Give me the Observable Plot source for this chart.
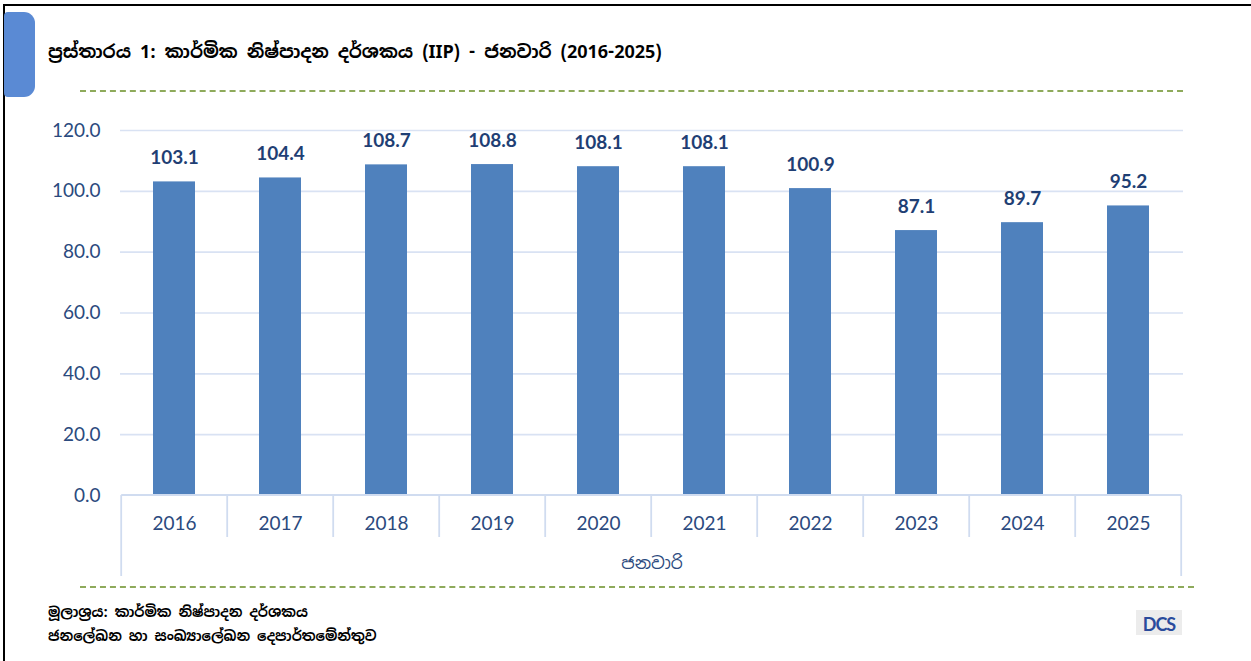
<!DOCTYPE html>
<html>
<head>
<meta charset="utf-8">
<script src="https://cdn.jsdelivr.net/npm/d3@7"></script>
<script src="https://cdn.jsdelivr.net/npm/@observablehq/plot@0.6"></script>
<style>
  html, body { margin:0; padding:0; background:#fff; }
  body { width:1251px; height:661px; position:relative; overflow:hidden; font-family: "Noto Sans Sinhala", "Iskoola Pota", Lato, "Noto Sans", sans-serif; }
  #frame { position:absolute; left:3px; top:4px; width:1300px; height:700px; border-top:2px solid #000; border-left:2px solid #000; }
  #tab { position:absolute; left:4px; top:12px; width:31px; height:85px; background:#5A8AD4; border-radius:4px 11px 11px 4px; }
  #title { position:absolute; left:48px; top:40px; font-size:18px; font-weight:bold; color:#000; white-space:nowrap; }
  .dash { position:absolute; height:0; border-top:2.5px dashed #8EAA5B; }
  #src { position:absolute; left:48px; top:600px; font-size:14px; font-weight:bold; color:#000; line-height:24px; white-space:nowrap; }
  #logo { position:absolute; left:1136px; top:610px; width:46px; height:25px; background:#ececec; color:#2A4B9C; font: bold 18px Lato, sans-serif; line-height:28px; text-align:center; letter-spacing:-1px; white-space:nowrap; }
  #chart { position:absolute; left:0; top:0; }
</style>
</head>
<body>
<div id="frame"></div>
<div id="tab"></div>
<div id="title"></div>
<div class="dash" style="left:80px; top:90px; width:1103px;"></div>
<div class="dash" style="left:80px; top:586px; width:1114px;"></div>
<div id="chart"></div>
<div id="src"></div>
<div id="logo">DCS</div>
<script>
const titleText = "ප්‍රස්තාරය 1: කාර්මික නිෂ්පාදන දර්ශකය (IIP) - ජනවාරි (2016-2025)";
const sourceLines = ["මූලාශ්‍රය: කාර්මික නිෂ්පාදන දර්ශකය", "ජනලේඛන හා සංඛ්‍යාලේඛන දෙපාර්තමේන්තුව"];
const years = ["2016","2017","2018","2019","2020","2021","2022","2023","2024","2025"];
const values = [103.1, 104.4, 108.7, 108.8, 108.1, 108.1, 100.9, 87.1, 89.7, 95.2];
const yTicks = [0, 20, 40, 60, 80, 100, 120];
const groupLabel = "ජනවාරි";

document.getElementById("title").textContent = titleText;
document.getElementById("src").innerHTML = sourceLines.map(s => `<div>${s}</div>`).join("");

const data = years.map((y, i) => ({year: y, value: values[i]}));
const padInner = 0.6;
const axisColor = "#2B4A7E";
const labelColor = "#1F3F74";
const gridColor = "#D9E2F3";
const fontFam = "Lato, 'Noto Sans', sans-serif";

function boxLines(index, scales, vals, dims) {
  const x = scales.x;
  const step = x(years[1]) - x(years[0]);
  const y0 = dims.height - dims.marginBottom;
  const bounds = years.map(yr => x(yr) - step * padInner / 2);
  bounds.push(bounds[bounds.length - 1] + step);
  const g = d3.create("svg:g").attr("stroke", "#D0DCF0").attr("stroke-width", 1.8).attr("fill", "none");
  g.append("line").attr("x1", bounds[0]).attr("x2", bounds[bounds.length - 1]).attr("y1", y0).attr("y2", y0);
  bounds.forEach((b, i) => {
    const outer = i === 0 || i === bounds.length - 1;
    g.append("line").attr("x1", b).attr("x2", b).attr("y1", y0).attr("y2", y0 + (outer ? 81 : 42));
  });
  return g.node();
}

const chart = Plot.plot({
  width: 1251,
  height: 661,
  marginLeft: 120,
  marginRight: 68,
  marginTop: 130,
  marginBottom: 166,
  style: {background: "transparent", fontFamily: fontFam, overflow: "visible"},
  x: {domain: years, paddingInner: padInner, paddingOuter: padInner / 2, axis: null},
  y: {domain: [0, 120], axis: null},
  marks: [
    Plot.ruleY(yTicks.slice(1), {stroke: gridColor, strokeWidth: 1.6}),
    Plot.barY(data, {x: "year", y: "value", fill: "#4F81BD"}),
    boxLines,
    Plot.text(data, {x: "year", y: "value", text: d => d.value.toFixed(1), dy: -24, fontSize: 19, fontWeight: "bold", fill: labelColor, lineAnchor: "middle"}),
    Plot.axisY({ticks: yTicks, tickFormat: d => d.toFixed(1), tickSize: 0, tickPadding: 20, fontSize: 19, color: axisColor, label: null}),
    Plot.text(years, {x: d => d, frameAnchor: "bottom", dy: 28, fontSize: 19, fill: axisColor, lineAnchor: "middle"}),
    Plot.text([groupLabel], {frameAnchor: "bottom", dy: 68, fontSize: 17, fill: axisColor, lineAnchor: "middle", fontFamily: "'Noto Sans Sinhala', 'Iskoola Pota', Lato, sans-serif"})
  ]
});
document.getElementById("chart").appendChild(chart);
</script>
</body>
</html>
